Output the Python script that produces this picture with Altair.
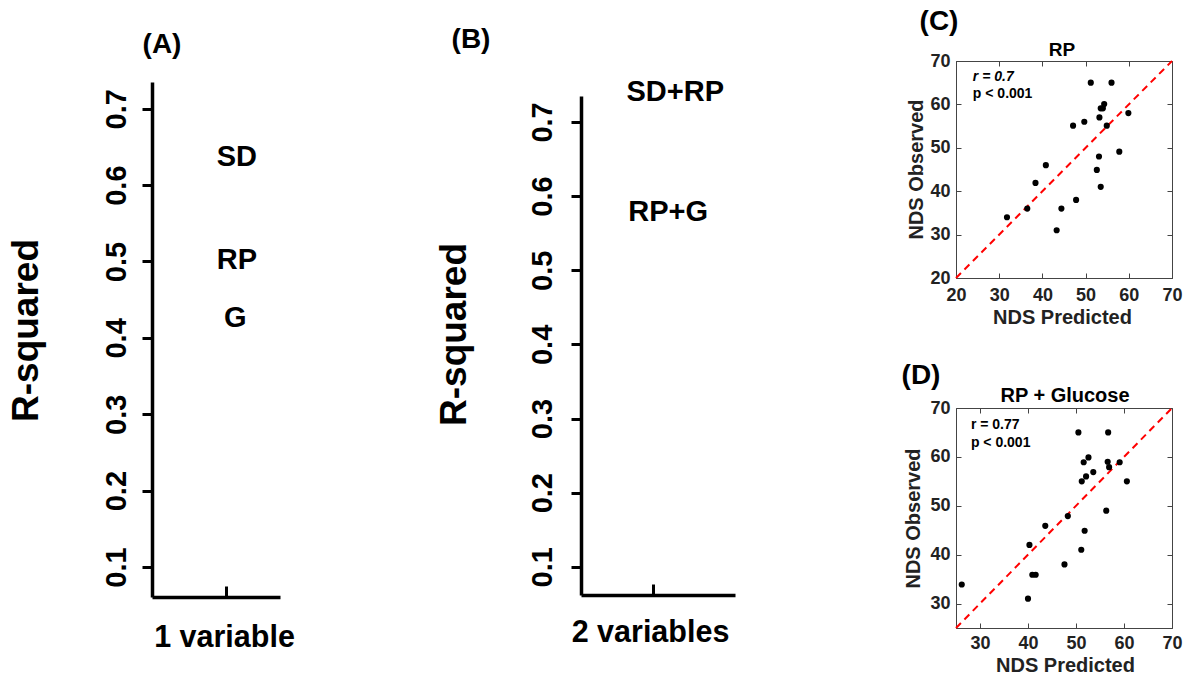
import altair as alt
import pandas as pd

FONT = "Liberation Sans"

# ---------------- data ----------------
a_terms = ["SD", "RP", "G"]
a_pos = [1.14, 1.14, 1.12]
a_r2 = [0.637, 0.502, 0.426]

b_terms = ["SD+RP", "RP+G"]
b_pos = [1.31, 1.21]
b_r2 = [0.740, 0.579]

r2_ticks = [0.1, 0.2, 0.3, 0.4, 0.5, 0.6, 0.7]
one_tick = [1]

c_pred = [51.2, 56.0, 54.3, 53.5, 54.0, 53.2, 59.9, 49.7, 47.1, 54.9, 57.8,
          53.1, 52.6, 53.5, 40.8, 38.4, 36.5, 44.4, 47.8, 31.8, 43.3]
c_obs = [65.0, 65.0, 60.1, 59.1, 59.1, 57.0, 58.0, 56.0, 55.1, 55.1, 49.1,
         48.0, 44.9, 41.0, 46.0, 41.9, 36.0, 36.0, 38.0, 34.0, 31.0]

d_pred = [50.5, 56.7, 52.6, 51.6, 56.6, 59.1, 56.9, 53.6, 52.1, 51.2, 60.6,
          56.3, 48.3, 43.6, 51.8, 40.3, 51.1, 47.6, 40.9, 41.6, 26.2, 40.0]
d_obs = [65.0, 65.0, 59.9, 58.9, 59.0, 58.9, 57.9, 56.9, 56.0, 55.0, 55.0,
         49.0, 47.9, 45.9, 44.9, 42.0, 41.0, 38.0, 35.9, 35.9, 33.9, 31.0]

c_ann = ["r = 0.7", "p < 0.001"]
c_ann_style = ["italic", "normal"]
c_ann_x = [23.9, 23.9]
c_ann_y = [66.3, 62.4]
d_ann = ["r = 0.77", "p < 0.001"]
d_ann_style = ["normal", "normal"]
d_ann_x = [28.1, 28.1]
d_ann_y = [66.5, 62.9]

c_ticks = [20, 30, 40, 50, 60, 70]
d_ticks = [30, 40, 50, 60, 70]


def label_layer(text, lx, ly, size):
    return alt.Chart(pd.DataFrame({"t": [text]})).mark_text(
        font=FONT, fontSize=size, fontWeight="bold", color="black",
        align="center", baseline="middle").encode(
        x=alt.value(lx), y=alt.value(ly), text="t:N")


def r2_panel(terms, pos, r2, W, H, ydom, xdom, letter, lx, ly, xtitle,
             xt_x, xt_y, yt_x, yt_y, lab_pad):
    df = pd.DataFrame({"pos": pos, "r2": r2, "term": terms})
    x = alt.X("pos:Q", scale=alt.Scale(domain=xdom, nice=False, zero=False),
              axis=alt.Axis(orient="top", offset=-H, values=one_tick, labels=False,
                            ticks=True, tickSize=11, tickWidth=3, tickColor="black",
                            domain=True, domainWidth=3.5, domainColor="black", grid=False,
                            title=xtitle, titleX=xt_x, titleY=xt_y, titleFont=FONT,
                            titleFontSize=30.5, titleFontWeight="bold", titleColor="black",
                            titleBaseline="middle", titleAlign="center", titleAngle=0))
    y = alt.Y("r2:Q", scale=alt.Scale(domain=ydom, nice=False, zero=False),
              axis=alt.Axis(orient="left", values=r2_ticks, format=".1f", grid=False,
                            labelAngle=270, labelAlign="center", labelBaseline="middle",
                            labelPadding=lab_pad, labelFont=FONT, labelFontSize=29,
                            labelFontWeight="bold", labelColor="black",
                            tickSize=10, tickWidth=3, tickColor="black",
                            domainWidth=3.5, domainColor="black",
                            title="R-squared", titleAngle=270, titleX=yt_x, titleY=yt_y,
                            titleFont=FONT, titleFontSize=37, titleFontWeight="bold",
                            titleColor="black", titleBaseline="middle", titleAlign="center"))
    txt = alt.Chart(df).mark_text(font=FONT, fontSize=29, fontWeight="bold", color="black",
                                  align="center", baseline="middle").encode(
        x=x, y=y, text="term:N")
    return alt.layer(txt, label_layer(letter, lx, ly, 28)).properties(width=W, height=H)


def scatter_panel(pred, obs, lo, ticks, W, H, title, tx, ty, ann, ann_style, ann_x, ann_y,
                  letter, lx, ly, lab_pad, xt_x, xt_y, yt_x, yt_y):
    xs = alt.Scale(domain=[lo, 70], nice=False, zero=False)
    ys = alt.Scale(domain=[lo, 70], nice=False, zero=False)
    common = dict(grid=False, domainColor="#444", domainWidth=1, tickColor="#444", tickWidth=1)
    ax_bottom = alt.Axis(orient="bottom", values=ticks, format="d", ticks=False, tickSize=0,
                         labelFont=FONT, labelFontSize=18, labelFontWeight="bold",
                         labelColor="#222", labelBaseline="middle", labelAlign="center",
                         labelPadding=lab_pad,
                         title="NDS Predicted", titleFont=FONT, titleFontSize=20,
                         titleFontWeight="bold", titleColor="#222", titleX=xt_x, titleY=xt_y,
                         titleBaseline="middle", titleAlign="center", **common)
    ax_left = alt.Axis(orient="left", values=ticks, format="d", ticks=False, tickSize=0,
                       labelFont=FONT, labelFontSize=18, labelFontWeight="bold",
                       labelColor="#222", labelBaseline="middle", labelAlign="right",
                       labelPadding=6,
                       title="NDS Observed", titleAngle=270, titleFont=FONT, titleFontSize=20,
                       titleFontWeight="bold", titleColor="#222", titleX=yt_x, titleY=yt_y,
                       titleBaseline="middle", titleAlign="center", **common)
    ax_in_b = alt.Axis(orient="top", offset=-H, values=ticks, labels=False, tickSize=5,
                       title=None, **common)
    ax_in_t = alt.Axis(orient="bottom", offset=-H, values=ticks, labels=False, tickSize=5,
                       title=None, **common)
    ax_in_l = alt.Axis(orient="right", offset=-W, values=ticks, labels=False, tickSize=5,
                       title=None, **common)
    ax_in_r = alt.Axis(orient="left", offset=-W, values=ticks, labels=False, tickSize=5,
                       title=None, **common)

    diag = alt.Chart(pd.DataFrame({"d": [lo, 70]})).mark_line(
        color="red", strokeDash=[7, 5], strokeWidth=2).encode(
        x=alt.X("d:Q", scale=xs, axis=ax_in_b), y=alt.Y("d:Q", scale=ys, axis=ax_in_l))
    pts = alt.Chart(pd.DataFrame({"pred": pred, "obs": obs})).mark_circle(
        size=38, color="black", opacity=1).encode(
        x=alt.X("pred:Q", scale=xs, axis=ax_bottom),
        y=alt.Y("obs:Q", scale=ys, axis=ax_left))
    ann_df = pd.DataFrame({"t": ann, "s": ann_style, "ax": ann_x, "ay": ann_y})
    ann_layers = []
    for style in ["italic", "normal"]:
        sub = ann_df[ann_df["s"] == style]
        if len(sub) == 0:
            continue
        first = len(ann_layers) == 0
        ann_layers.append(alt.Chart(sub).mark_text(
            font=FONT, fontSize=14, fontWeight="bold", fontStyle=style, color="black",
            align="left", baseline="middle").encode(
            x=alt.X("ax:Q", scale=xs, axis=ax_in_t if first else None),
            y=alt.Y("ay:Q", scale=ys, axis=ax_in_r if first else None), text="t:N"))
    return alt.layer(diag, pts, *ann_layers, label_layer(letter, lx, ly, 28),
                     label_layer(title, tx, ty, 20 if len(title) > 3 else 19)).resolve_axis(
        x="independent", y="independent").properties(width=W, height=H)


def spacer(W, H):
    return alt.Chart(pd.DataFrame({"v": [0]})).mark_point(opacity=0).properties(width=W, height=H)


A_W, A_H = 128, 515
B_W, B_H = 154, 499
panel_a = r2_panel(a_terms, a_pos, a_r2, A_W, A_H, [0.0607, 0.735], [0, 1.72], "(A)", 10, -37,
                   "1 variable", 72, 40, -126, 248, 26)
panel_b = r2_panel(b_terms, b_pos, b_r2, B_W, B_H, [0.062, 0.735], [0, 2.14], "(B)", -110, -56,
                   "2 variables", 69, 37, -127, 238, 29)

panel_c = scatter_panel(c_pred, c_obs, 20, c_ticks, 216, 217, "RP", 106, -11,
                        c_ann, c_ann_style, c_ann_x, c_ann_y, "(C)", -17, -39, 17,
                        106, 39, -40, 108)
panel_d = scatter_panel(d_pred, d_obs, 25, d_ticks, 216, 220, "RP + Glucose", 109, -12,
                        d_ann, d_ann_style, d_ann_x, d_ann_y, "(D)", -35, -32, 15,
                        109, 37, -43, 110)

# nested flush groups count as zero width, so spacing = distance between plot origins
col_a = alt.vconcat(spacer(A_W, 21), panel_a, spacing=0, bounds="flush")
col_b = alt.vconcat(spacer(B_W, 35), panel_b, spacing=0, bounds="flush")
col_cd = alt.vconcat(panel_c, panel_d, spacing=130, bounds="flush")
inner = alt.hconcat(col_b, col_cd, spacing=375, bounds="flush")

chart = alt.hconcat(col_a, inner, spacing=429, bounds="flush").properties(
    padding={"left": 7, "top": 8, "right": 5, "bottom": 2},
    background="white",
).configure_view(stroke=None)

chart.save("out.html", embed_options={"renderer": "svg", "actions": False})
